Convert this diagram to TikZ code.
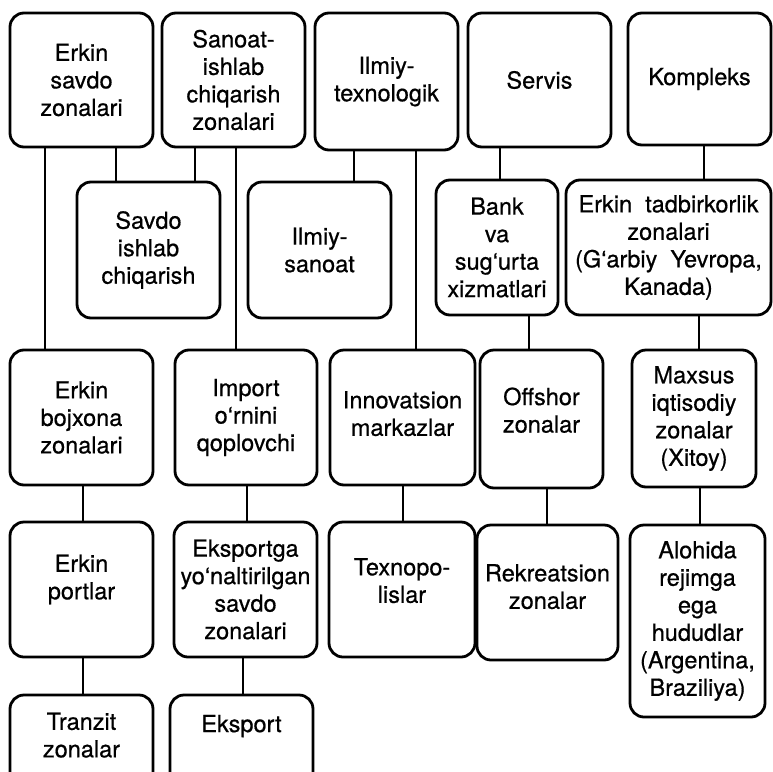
\documentclass[tikz,border=0pt]{standalone}
\usepackage{fontspec}
\setmainfont{TeX Gyre Heros}[FakeBold=0.6]

\begin{document}
\begin{tikzpicture}[x=1pt, y=-1pt,
    zone/.style={draw, line width=2.8pt, rounded corners=14pt, align=center,
      inner sep=2pt, minimum width=143pt, minimum height=135pt,
      font=\fontsize{23.5}{27.5}\selectfont},
    link/.style={line width=2.8pt}]
            \clip (0,0) rectangle (773,771);

            % first row
            \node[zone, minimum height=134pt] (esz) at (81.5,80) {Erkin\\savdo\\zonalari};
            \node[zone, minimum height=134pt] (sichz) at (233.5,80) {Sanoat-\\ishlab\\chiqarish\\zonalari};
            \node[zone, minimum height=137pt] (ilt) at (386.5,81.5) {Ilmiy-\\texnologik};
            \node[zone, minimum height=134pt] (srv) at (539.5,80) {Servis};
            \node[zone, minimum height=132pt] (kmp) at (699.5,79) {Kompleks};

            % second row
            \node[zone, minimum height=136pt] (sic) at (148.5,250) {Savdo\\ishlab\\chiqarish};
            \node[zone, minimum height=136pt] (isn) at (319.5,250) {Ilmiy-\\sanoat};
            \node[zone, minimum width=122pt] (bank) at (497,247.5) {Bank\\va\\sug‘urta\\xizmatlari};
            \node[zone, minimum width=205pt] (etz) at (668.5,247.5) {Erkin~~tadbirkorlik\\zonalari\\(G‘arbiy~~Yevropa,\\Kanada)};

            % third row
            \node[zone] (ebz) at (81.5,417.5) {Erkin\\bojxona\\zonalari};
            \node[zone, minimum width=142pt] (imp) at (246,417.5) {Import\\o‘rnini\\qoplovchi};
            \node[zone, minimum width=145pt, text depth=8pt] (inn) at (402.5,417.5) {Innovatsion\\markazlar};
            \node[zone, minimum width=123pt, minimum height=138pt, text depth=18pt] (off) at (541.5,419) {Offshor\\zonalar};
            \node[zone, minimum width=124pt, minimum height=137pt] (mqz) at (694,418.5) {Maxsus\\iqtisodiy\\zonalar\\(Xitoy)};

            % fourth row
            \node[zone, text depth=25pt] (ep) at (81.5,589.5) {Erkin\\portlar};
            \node[zone] (eys) at (245.5,589.5) {Eksportga\\yo‘naltirilgan\\savdo\\zonalari};
            \node[zone, minimum width=146pt, text depth=18pt] (tex) at (402,589.5) {Texnopo-\\lislar};
            \node[zone, minimum width=141pt, text depth=12pt] (rek) at (547.5,592.5) {Rekreatsion\\zonalar};
            \node[zone, minimum width=135pt, minimum height=192pt] (alo) at (697.5,621) {Alohida\\rejimga\\ega\\hududlar\\(Argentina,\\Braziliya)};

            % fifth row
            \node[zone, minimum height=95pt, text depth=15pt] (tz) at (81.5,742.5) {Tranzit\\zonalar};
            \node[zone, minimum height=95pt, text depth=38pt] (eks) at (241.5,742.5) {Eksport};

            % connectors
            \draw[link] (esz.south -| 45,0) -- (ebz.north -| 45,0);
            \draw[link] (esz.south -| 116,0) -- (sic.north -| 116,0);
            \draw[link] (sichz.south -| 195,0) -- (sic.north -| 195,0);
            \draw[link] (sichz.south -| 236,0) -- (imp.north -| 236,0);
            \draw[link] (ilt.south -| 354,0) -- (isn.north -| 354,0);
            \draw[link] (ilt.south -| 416,0) -- (inn.north -| 416,0);
            \draw[link] (srv.south -| 500,0) -- (bank.north -| 500,0);
            \draw[link] (kmp.south -| 704,0) -- (etz.north -| 704,0);
            \draw[link] (bank.south -| 529,0) -- (off.north -| 529,0);
            \draw[link] (etz.south -| 699,0) -- (mqz.north -| 699,0);
            \draw[link] (ebz.south -| 83,0) -- (ep.north -| 83,0);
            \draw[link] (imp.south -| 247,0) -- (eys.north -| 247,0);
            \draw[link] (inn.south -| 403,0) -- (tex.north -| 403,0);
            \draw[link] (off.south -| 547,0) -- (rek.north -| 547,0);
            \draw[link] (mqz.south -| 700,0) -- (alo.north -| 700,0);
            \draw[link] (ep.south -| 83,0) -- (tz.north -| 83,0);
            \draw[link] (eys.south -| 243,0) -- (eks.north -| 243,0);
        \end{tikzpicture}
\end{document}
